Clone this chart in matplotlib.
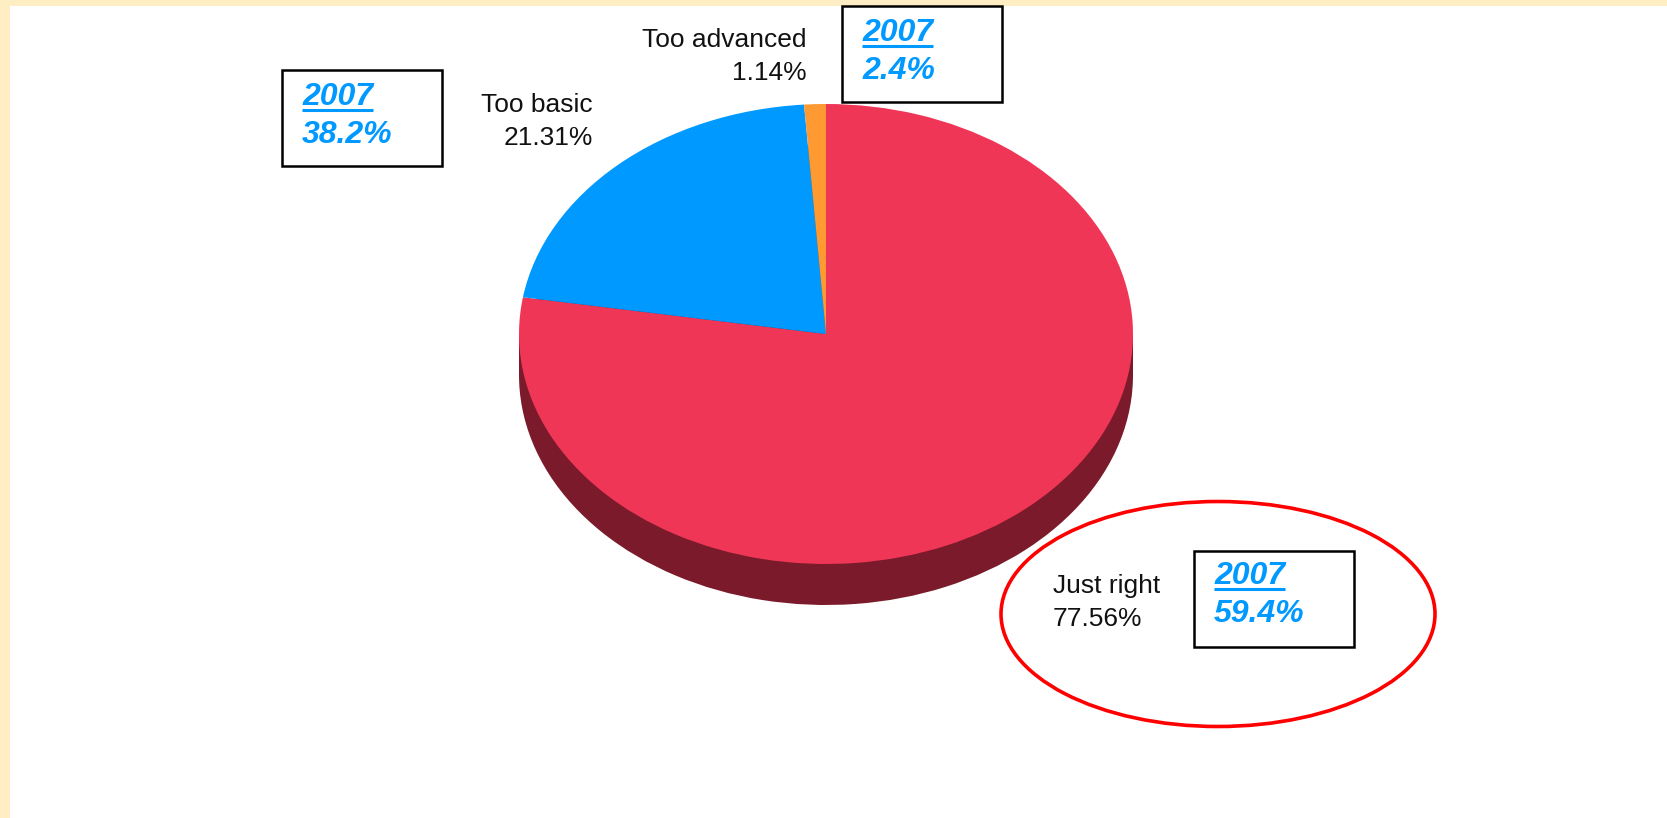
import matplotlib
matplotlib.use("Agg")
import matplotlib.pyplot as plt
from matplotlib.patches import Rectangle, Ellipse

# --- data ---
categories = ["Just right", "Too basic", "Too advanced"]
shares = [77.56, 21.31, 1.14]
prev_year = "2007"
prev_shares = [59.4, 38.2, 2.4]

# --- colours ---
TOP_COLORS = ["#F03657", "#0099FF", "#FF9A33"]
SIDE_COLORS = ["#7A1A2A", "#004D80", "#804D19"]
BG_BAND = "#FFEDC4"
LINK_BLUE = "#0099FF"

W, H = 1667, 818
fig = plt.figure(figsize=(W / 100, H / 100), dpi=100)
fig.patch.set_facecolor("white")

# pie geometry in pixels
CX, CY, RX, RY, DEPTH = 826, 334, 307, 230, 41
XPAD, YTOP, YBOT = 1.05, 1.05, 1.30
left = CX - XPAD * RX
top = CY - YTOP * RY
bottom = CY + YBOT * RY
pie_ax = fig.add_axes([left / W, 1 - bottom / H,
                       2 * XPAD * RX / W, (bottom - top) / H])
depth = DEPTH / RY

pie_ax.pie(shares, colors=SIDE_COLORS, startangle=90, counterclock=False,
           center=(0, -depth), wedgeprops=dict(linewidth=0))
pie_ax.add_patch(Rectangle((-1, -depth), 2, depth, color=SIDE_COLORS[0],
                           linewidth=0))
pie_ax.pie(shares, colors=TOP_COLORS, startangle=90, counterclock=False,
           wedgeprops=dict(linewidth=0))
pie_ax.set_aspect("auto")
pie_ax.set_xlim(-XPAD, XPAD)
pie_ax.set_ylim(-YBOT, YTOP)
pie_ax.axis("off")

# overlay axes in pixel coordinates
ax = fig.add_axes([0, 0, 1, 1])
ax.set_xlim(0, W)
ax.set_ylim(H, 0)
ax.axis("off")
ax.patch.set_alpha(0)

ax.add_patch(Rectangle((0, 0), W, 6, color=BG_BAND, linewidth=0))
ax.add_patch(Rectangle((0, 0), 10, H, color=BG_BAND, linewidth=0))

LABEL_FONT = ["Liberation Sans", "DejaVu Sans"]
LABEL_SIZE = 19

# slice labels: (x, baseline of first line, align)
label_pos = {
    "Just right": (1053, 593, "left"),
    "Too basic": (593, 112, "right"),
    "Too advanced": (807, 47, "right"),
}
for name, val in zip(categories, shares):
    x, y, ha = label_pos[name]
    ax.text(x, y, name, ha=ha, va="baseline", fontsize=LABEL_SIZE,
            family=LABEL_FONT, color="#111111")
    ax.text(x, y + 33, f"{val:.2f}%", ha=ha, va="baseline",
            fontsize=LABEL_SIZE, family=LABEL_FONT, color="#111111")

# comparison boxes: (box left, box top, text x, baseline of year)
box_pos = {
    "Just right": (1194, 551, 1214, 584),
    "Too basic": (282, 70, 302, 105),
    "Too advanced": (842, 6, 862, 41),
}
year_texts = []
for name, val in zip(categories, prev_shares):
    bx, by, tx, ty = box_pos[name]
    ax.add_patch(Rectangle((bx, by), 160, 96, fill=False, edgecolor="black",
                           linewidth=1.8))
    t = ax.text(tx, ty, prev_year, ha="left", va="baseline", fontsize=23,
                family="Liberation Sans", weight="bold", style="italic",
                color=LINK_BLUE)
    year_texts.append((t, ty))
    ax.text(tx, ty + 38, f"{val}%", ha="left", va="baseline", fontsize=23,
            family="Liberation Sans", weight="bold", style="italic",
            color=LINK_BLUE)

# underline the year links
fig.canvas.draw()
for t, ty in year_texts:
    bb = t.get_window_extent()
    ax.plot([bb.x0, bb.x1], [ty + 4.5, ty + 4.5], color=LINK_BLUE,
            linewidth=2.2, solid_capstyle="butt")

# red highlight ring
ax.add_patch(Ellipse((1218, 614), 434, 225, fill=False, edgecolor="#FF0000",
                     linewidth=2.6))

fig.savefig("out.png", dpi=100)
